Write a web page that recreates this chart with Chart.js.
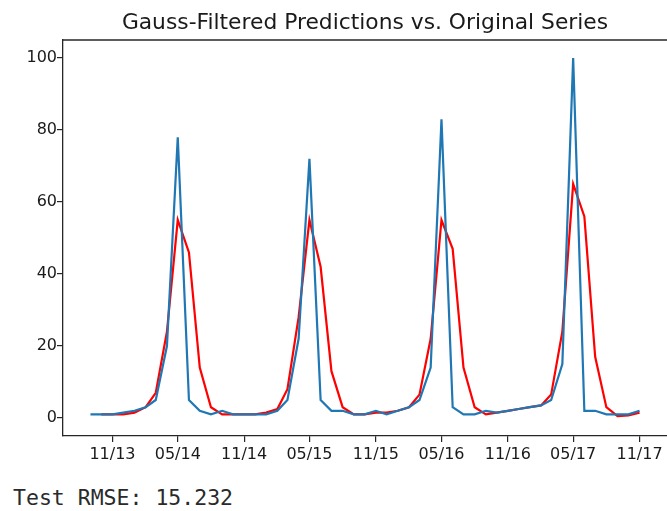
<!DOCTYPE html>
<html>
<head>
<meta charset="utf-8">
<script src="https://cdn.jsdelivr.net/npm/chart.js@4.4.1/dist/chart.umd.min.js"></script>
<style>
  html, body { margin: 0; padding: 0; background: #fff; }
  #wrap { position: relative; width: 667px; height: 470px; }
  #title {
    position: absolute; left: 63px; width: 604px; top: 9px;
    text-align: center; white-space: nowrap;
    font-family: "DejaVu Sans", sans-serif; font-size: 21.8px; color: #1a1a1a;
  }
  #rmse {
    position: absolute; left: 13px; top: 485px;
    font-family: "DejaVu Sans Mono", "Liberation Mono", monospace;
    font-size: 21.5px; color: #2a2a2a; white-space: pre;
  }
</style>
</head>
<body>
<div id="wrap">
  <canvas id="chart"></canvas>
  <div id="title">Gauss-Filtered Predictions vs. Original Series</div>
</div>
<div id="rmse">Test RMSE: 15.232</div>
<script>
// monthly observations, first of each month
const months = [
  '2013-09', '2013-10', '2013-11', '2013-12',
  '2014-01', '2014-02', '2014-03', '2014-04', '2014-05', '2014-06',
  '2014-07', '2014-08', '2014-09', '2014-10', '2014-11', '2014-12',
  '2015-01', '2015-02', '2015-03', '2015-04', '2015-05', '2015-06',
  '2015-07', '2015-08', '2015-09', '2015-10', '2015-11', '2015-12',
  '2016-01', '2016-02', '2016-03', '2016-04', '2016-05', '2016-06',
  '2016-07', '2016-08', '2016-09', '2016-10', '2016-11', '2016-12',
  '2017-01', '2017-02', '2017-03', '2017-04', '2017-05', '2017-06',
  '2017-07', '2017-08', '2017-09', '2017-10', '2017-11'
];

const original = [
  1, 1, 1, 1.5,
  2, 3, 5, 20, 78, 5, 2, 1, 2, 1, 1, 1,
  1, 2, 5, 22, 72, 5, 2, 2, 1, 1, 2, 1,
  2, 3, 5, 14, 83, 3, 1, 1, 2, 1.5, 2, 2.5,
  3, 3.5, 5, 15, 100, 2, 2, 1, 1, 1, 2
];

// filtered predictions start one month later
const filtered = [
  null, 1, 1, 1,
  1.5, 3, 7, 24, 55, 46, 14, 3, 1, 1, 1, 1,
  1.5, 2.5, 8, 28, 55, 42, 13, 3, 1, 1, 1.5, 1.5,
  2, 3, 6.5, 22, 55, 47, 14, 3, 1, 1.5, 2, 2.5,
  3, 3.5, 6.5, 24, 65, 56, 17, 3, 0.5, 0.7, 1.5
];

const tickMonths = ['2013-11', '2014-05', '2014-11', '2015-05', '2015-11',
                    '2016-05', '2016-11', '2017-05', '2017-11'];
const tickLabels = ['11/13', '05/14', '11/14', '05/15', '11/15',
                    '05/16', '11/16', '05/17', '11/17'];
const yTicks = [0, 20, 40, 60, 80, 100];

function toDay(ym) {
  const p = ym.split('-');
  return Date.UTC(+p[0], +p[1] - 1, 1) / 864e5;
}

const xs = months.map(toDay);
const span = xs[xs.length - 1] - xs[0];
const xMin = xs[0] - span * 0.05;
const xMax = xs[xs.length - 1] + span * 0.05;

const axisColor = '#262626';
const tickFont = { family: 'DejaVu Sans', size: 16 };

// top spine (left/bottom come from the axis borders)
const frame = {
  id: 'frame',
  afterDatasetsDraw(chart) {
    const a = chart.chartArea;
    const c = chart.ctx;
    c.save();
    c.strokeStyle = axisColor;
    c.lineWidth = 1.3;
    c.beginPath();
    c.moveTo(a.left, a.top);
    c.lineTo(a.right, a.top);
    c.stroke();
    c.restore();
  }
};

const ctx = document.getElementById('chart').getContext('2d');
new Chart(ctx, {
  type: 'line',
  data: {
    datasets: [
      {
        label: 'original',
        data: original.map((v, i) => ({ x: xs[i], y: v })),
        borderColor: '#1f77b4',
        borderWidth: 2.2,
        pointRadius: 0,
        tension: 0
      },
      {
        label: 'filtered',
        data: filtered.map((v, i) => ({ x: xs[i], y: v })),
        borderColor: '#ff0000',
        borderWidth: 2.2,
        pointRadius: 0,
        tension: 0
      }
    ]
  },
  options: {
    responsive: true,
    maintainAspectRatio: false,
    animation: false,
    events: [],
    layout: { padding: { left: 0, right: 0, top: 40, bottom: 0 } },
    plugins: {
      legend: { display: false },
      tooltip: { enabled: false },
      title: { display: false }
    },
    scales: {
      x: {
        type: 'linear',
        min: xMin,
        max: xMax,
        afterBuildTicks(scale) {
          scale.ticks = tickMonths.map(m => ({ value: toDay(m) }));
        },
        afterFit(scale) { scale.height = 34; },
        ticks: {
          autoSkip: false,
          maxRotation: 0,
          padding: 3,
          color: '#1a1a1a',
          font: tickFont,
          callback: (v, i) => tickLabels[i]
        },
        grid: { drawOnChartArea: false, drawTicks: true, tickLength: 6, color: axisColor, lineWidth: 1.2 },
        border: { display: true, color: axisColor, width: 1.3 }
      },
      y: {
        type: 'linear',
        min: -5,
        max: 105,
        afterBuildTicks(scale) {
          scale.ticks = yTicks.map(v => ({ value: v }));
        },
        afterFit(scale) { scale.width = 63; },
        ticks: {
          padding: 0,
          color: '#1a1a1a',
          font: tickFont
        },
        grid: { drawOnChartArea: false, drawTicks: true, tickLength: 6, color: axisColor, lineWidth: 1.2 },
        border: { display: true, color: axisColor, width: 1.3 }
      }
    }
  },
  plugins: [frame]
});
</script>
</body>
</html>
